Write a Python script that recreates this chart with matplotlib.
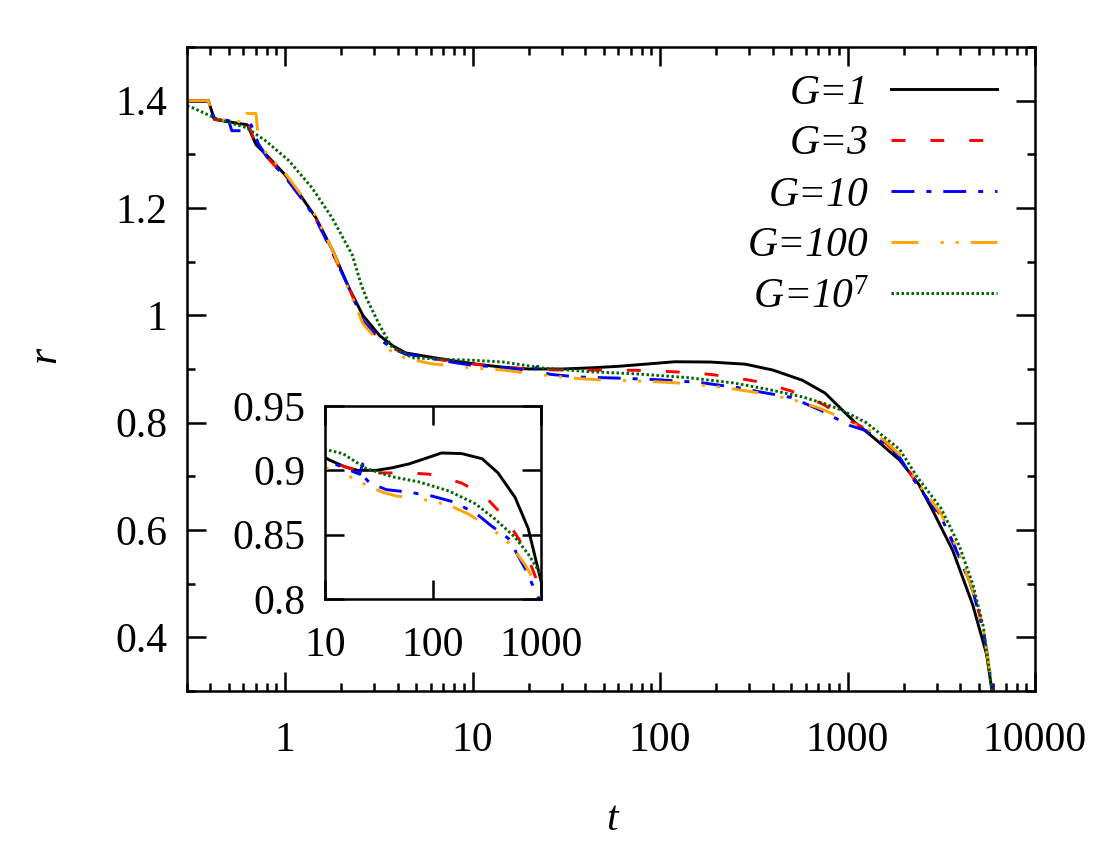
import matplotlib
matplotlib.use('Agg')
import matplotlib.pyplot as plt
from matplotlib.ticker import FixedLocator, FuncFormatter, LogLocator, NullFormatter, NullLocator, MultipleLocator

plt.rcParams['font.family'] = ['Liberation Serif', 'DejaVu Serif']
plt.rcParams['font.size'] = 30
plt.rcParams['mathtext.fontset'] = 'custom'
plt.rcParams['mathtext.rm'] = 'Liberation Serif'
plt.rcParams['mathtext.it'] = 'Liberation Serif:italic'
plt.rcParams['mathtext.default'] = 'it'
plt.rcParams['lines.scale_dashes'] = False

# ---------------- data ----------------
t_g1 = [0.3, 0.39, 0.42, 0.63, 0.70, 0.8, 1.0, 1.2, 1.46, 1.8, 2.2, 2.6, 3.2, 3.8, 4.4, 6, 8, 11, 15, 20,
        24, 30, 42, 60, 80, 120, 185, 285, 400, 575, 760, 935, 1100, 1400, 1900, 2400, 2850, 3640, 4650, 5520, 5900]
r_g1 = [1.40, 1.40, 1.365, 1.355, 1.318, 1.298, 1.262, 1.225, 1.182, 1.12, 1.05, 1.0, 0.962, 0.942, 0.930,
        0.922, 0.915, 0.908, 0.903, 0.900, 0.900, 0.900, 0.902, 0.905, 0.9085, 0.9135, 0.913, 0.909, 0.898,
        0.879, 0.855, 0.824, 0.800, 0.770, 0.730, 0.685, 0.636, 0.562, 0.461, 0.368, 0.30]

t_g3 = [0.3, 0.39, 0.42, 0.63, 0.7, 0.8, 1.0, 1.2, 1.46, 1.8, 2.2, 2.6, 3.2, 3.8, 4.4, 6, 8, 11, 15, 21,
        30, 42, 60, 92, 130, 185, 250, 325, 400, 500, 630, 760, 900, 1025, 1260, 1600, 1900, 2340, 3160,
        3950, 4650, 5300, 5950]
r_g3 = [1.40, 1.40, 1.365, 1.36, 1.318, 1.295, 1.258, 1.222, 1.18, 1.115, 1.05, 0.99, 0.955, 0.938, 0.928,
        0.920, 0.913, 0.908, 0.903, 0.899, 0.898, 0.898, 0.898, 0.897, 0.894, 0.890, 0.884, 0.877, 0.869,
        0.859, 0.846, 0.832, 0.816, 0.804, 0.788, 0.762, 0.737, 0.687, 0.626, 0.551, 0.490, 0.415, 0.30]

t_g10 = [0.3, 0.39, 0.42, 0.5, 0.52, 0.63, 0.66, 0.72, 0.8, 1.0, 1.2, 1.46, 1.8, 2.2, 2.6, 3.2, 3.8, 4.4,
         6, 8, 10.4, 12.3, 17, 21, 22.3, 23, 26, 37, 60, 98, 162, 263, 345, 500, 710, 900, 1025, 1260, 1600,
         1900, 2340, 3160, 3950, 4650, 5300, 5950]
r_g10 = [1.40, 1.40, 1.365, 1.363, 1.344, 1.344, 1.355, 1.32, 1.295, 1.258, 1.222, 1.18, 1.115, 1.05, 0.99,
         0.955, 0.937, 0.928, 0.920, 0.912, 0.906, 0.905, 0.900, 0.897, 0.905, 0.895, 0.890, 0.885, 0.883,
         0.880, 0.875, 0.865, 0.857, 0.847, 0.824, 0.805, 0.795, 0.785, 0.760, 0.735, 0.685, 0.624, 0.549,
         0.488, 0.413, 0.30]

t_g100 = [0.3, 0.39, 0.42, 0.6, 0.62, 0.7, 0.72, 0.8, 1.0, 1.2, 1.46, 1.8, 2.2, 2.6, 3.2, 3.8, 4.4, 6, 8,
          10.4, 14.6, 21, 34, 46, 86, 140, 213, 345, 500, 710, 935, 1025, 1260, 1600, 1900, 2340, 3160, 3950,
          4650, 5300, 5950]
r_g100 = [1.40, 1.40, 1.365, 1.36, 1.376, 1.376, 1.33, 1.30, 1.265, 1.228, 1.185, 1.12, 1.045, 0.985, 0.948,
          0.930, 0.920, 0.910, 0.905, 0.9015, 0.898, 0.891, 0.883, 0.880, 0.877, 0.873, 0.866, 0.855, 0.844,
          0.827, 0.809, 0.800, 0.790, 0.765, 0.740, 0.690, 0.630, 0.555, 0.490, 0.415, 0.30]

t_g1e7 = [0.3, 0.32, 0.44, 0.62, 0.79, 1.05, 1.39, 1.78, 2.28, 2.55, 2.71, 3.18, 3.73, 4.77, 7.2, 10.4, 14.6,
          24, 42, 74, 140, 247, 377, 575, 760, 935, 1260, 1900, 2340, 3160, 3950, 4650, 5300, 5900]
r_g1e7 = [1.39, 1.387, 1.365, 1.35, 1.325, 1.288, 1.238, 1.182, 1.113, 1.057, 1.033, 0.983, 0.94, 0.921,
          0.918, 0.916, 0.913, 0.9015, 0.895, 0.891, 0.884, 0.874, 0.862, 0.848, 0.835, 0.823, 0.800, 0.750,
          0.700, 0.640, 0.570, 0.500, 0.420, 0.30]

series_t = [t_g1, t_g3, t_g10, t_g100, t_g1e7]
series_r = [r_g1, r_g3, r_g10, r_g100, r_g1e7]
labels = ['G=1', 'G=3', 'G=10', 'G=100', 'G=10$^{7}$']

main_xticks = [1, 10, 100, 1000, 10000]
main_yticks = [0.4, 0.6, 0.8, 1.0, 1.2, 1.4]
inset_xticks = [10, 100, 1000]
inset_yticks = [0.8, 0.85, 0.9, 0.95]

# ---------------- styles ----------------
colors = ['black', '#ff0000', '#0000ff', '#ffa500', '#006400']
styles = ['-', (0, (10, 18)), (0, (16.5, 8.6, 3.6, 8.6)), (0, (19.4, 16, 2.2, 8.6, 2.2, 8.6)), (0, (1.8, 1.8))]
LW = 2.1

fmt = FuncFormatter(lambda v, p: '%g' % v)

fig = plt.figure(figsize=(11, 8.5), dpi=100)
ax = fig.add_axes([187 / 1100, 1 - 691 / 850, (1035 - 187) / 1100, (691 - 47) / 850])

for t, r, c, s, lab in zip(series_t, series_r, colors, styles, labels):
    ax.plot(t, r, color=c, linestyle=s, lw=LW, label=lab, dash_capstyle='butt')

ax.set_xscale('log')
ax.set_xlim(0.3, 10000)
ax.set_ylim(0.3, 1.5)
ax.xaxis.set_major_locator(FixedLocator(main_xticks))
ax.xaxis.set_major_formatter(fmt)
ax.xaxis.set_minor_locator(LogLocator(base=10, subs=range(2, 10), numticks=50))
ax.xaxis.set_minor_formatter(NullFormatter())
ax.yaxis.set_major_locator(FixedLocator(main_yticks))
ax.yaxis.set_major_formatter(fmt)
ax.yaxis.set_minor_locator(MultipleLocator(0.1))
for sp in ax.spines.values():
    sp.set_linewidth(1.8)
ax.tick_params(which='both', direction='in', top=True, right=True, width=1.8)
ax.tick_params(which='major', length=13.5)
ax.tick_params(which='minor', length=6)
ax.tick_params(axis='x', which='major', pad=22)
ax.tick_params(axis='y', which='major', pad=14)

fig.text(612 / 1100, 1 - 820 / 850, 't', style='italic', ha='center', va='center')
fig.text(45 / 1100, 1 - 355 / 850, 'r', style='italic', ha='center', va='center', rotation=90)

leg = ax.legend(loc='upper right', bbox_to_anchor=(993 / 1100 + 0.004, 1 - 74 / 850), bbox_transform=fig.transFigure,
                frameon=False, markerfirst=False, handlelength=2.55, handletextpad=0.55,
                labelspacing=0.3, borderpad=0, borderaxespad=0,
                prop={'family': 'Liberation Serif', 'style': 'italic', 'size': 30})

# ---------------- inset ----------------
axi = fig.add_axes([325 / 1100, 1 - 599 / 850, (541 - 325) / 1100, (599 - 406) / 850])
for t, r, c, s in zip(series_t, series_r, colors, styles):
    axi.plot(t, r, color=c, linestyle=s, lw=LW, dash_capstyle='butt')
axi.set_xscale('log')
axi.set_xlim(10, 1000)
axi.set_ylim(0.8, 0.95)
axi.xaxis.set_major_locator(FixedLocator(inset_xticks))
axi.xaxis.set_major_formatter(fmt)
axi.xaxis.set_minor_locator(NullLocator())
axi.yaxis.set_major_locator(FixedLocator(inset_yticks))
axi.yaxis.set_major_formatter(fmt)
for sp in axi.spines.values():
    sp.set_linewidth(1.8)
axi.tick_params(which='both', direction='in', top=True, right=True, width=1.8, length=13.5)
axi.tick_params(axis='x', pad=20)
axi.tick_params(axis='y', pad=14)

fig.savefig('out.png', dpi=100)
